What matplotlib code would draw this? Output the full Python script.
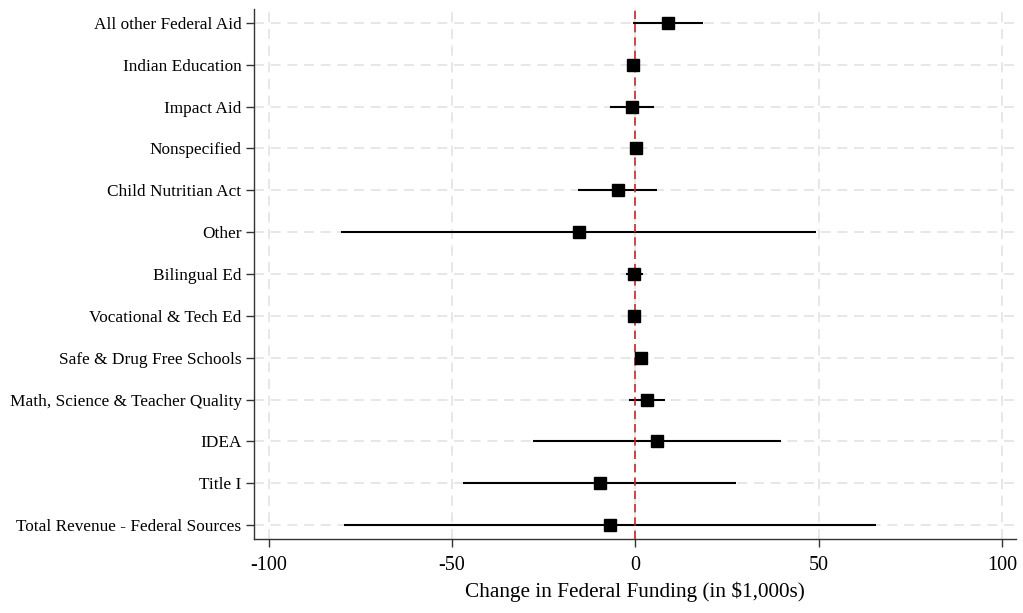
import matplotlib
matplotlib.use("Agg")
import matplotlib.pyplot as plt
import numpy as np

categories = [
    "All other Federal Aid",
    "Indian Education",
    "Impact Aid",
    "Nonspecified",
    "Child Nutritian Act",
    "Other",
    "Bilingual Ed",
    "Vocational & Tech Ed",
    "Safe & Drug Free Schools",
    "Math, Science & Teacher Quality",
    "IDEA",
    "Title I",
    "Total Revenue - Federal Sources",
]
estimates = [8.9, -0.6, -0.9, 0.1, -4.8, -15.4, -0.4, -0.4, 1.4, 3.1, 5.9, -9.7, -7.0]
ci_low = [-0.6, -1.2, -6.8, -0.5, -15.6, -80.2, -2.6, -1.0, 0.8, -1.7, -27.9, -47.0, -79.4]
ci_high = [18.5, 0.0, 5.0, 0.7, 5.9, 49.2, 2.1, 0.2, 2.0, 8.0, 39.6, 27.3, 65.5]
xticks = [-100, -50, 0, 50, 100]

plt.rcParams['font.family'] = ['Liberation Serif', 'DejaVu Serif']

fig = plt.figure(figsize=(10.23, 6.13), dpi=100)
ax = fig.add_axes([0.2483, 0.1207, 0.7449, 0.8646])

n = len(categories)
ypos = np.arange(n)[::-1]

for y in ypos:
    ax.axhline(y, color="#e3e3e3", lw=1.2, ls=(0, (6, 4)), zorder=0)
for x in xticks:
    ax.axvline(x, color="#e3e3e3", lw=1.2, ls=(0, (6, 4)), zorder=0)

ax.hlines(ypos, ci_low, ci_high, color="black", lw=1.5, zorder=2)
ax.axvline(0, color="#c8262b", lw=1.2, ls=(0, (5, 3)), zorder=3)
ax.plot(estimates, ypos, ls="none", marker="s", ms=8.5, color="black", zorder=4)

ax.set_xlim(-104, 103.8)
ax.set_ylim(-0.33, n - 1 + 0.33)
ax.set_yticks(ypos)
ax.set_yticklabels(categories, fontsize=12.4)
ax.set_xticks(xticks)
ax.set_xticklabels([str(t) for t in xticks], fontsize=14.5)
ax.set_xlabel("Change in Federal Funding (in $1,000s)", fontsize=15.3, labelpad=5)

for s in ["top", "right"]:
    ax.spines[s].set_visible(False)
for s in ["left", "bottom"]:
    ax.spines[s].set_color("#333333")
    ax.spines[s].set_linewidth(1.0)
ax.tick_params(axis="both", direction="out", length=6, width=1.0, color="#333333")
ax.tick_params(axis="y", pad=3)
ax.tick_params(axis="x", pad=6)

fig.savefig("out.png", dpi=100)
